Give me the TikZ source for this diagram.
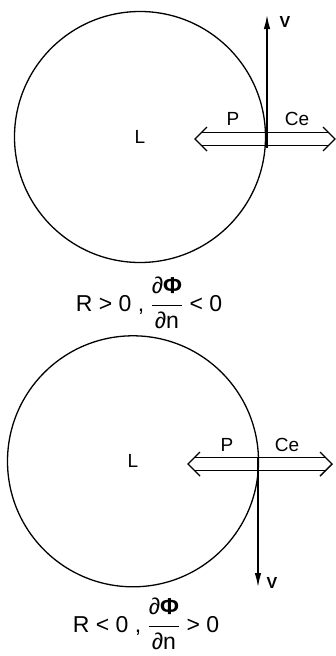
\documentclass[tikz,border=0pt]{standalone}
\usepackage{amsmath}
\usepackage{fontspec}
\setmainfont{Liberation Sans}
\usetikzlibrary{positioning,arrows.meta}

\begin{document}
\begin{tikzpicture}[x=1pt, y=-1pt]
    % Styles
    \tikzstyle{cell} = [circle, draw, line width=1.3pt, minimum size=251pt, inner sep=0pt, font=\fontsize{19}{22}\selectfont]
    \tikzstyle{tag} = [inner sep=0pt, font=\fontsize{19}{22}\selectfont]
    \tikzstyle{vtag} = [inner sep=0pt, font=\bfseries\fontsize{16}{18}\selectfont]
    \tikzstyle{cond} = [inner sep=0pt, font=\fontsize{23}{26}\selectfont]
    \tikzstyle{flux} = [line width=1.4pt, line join=miter]
    \tikzstyle{vel} = [line width=2pt, -{Latex[length=15pt, width=6.5pt]}]

    \useasboundingbox (0,0) rectangle (336,656);

    % Upper case
    \node (cellA) [cell] at (140,137) {L};
    \node (condA) [cond] at (149,302) {R > 0 , \(\genfrac{}{}{1.2pt}{0}{\mbox{\strut∂\textbf{Φ}}}{\mbox{∂n}}\) < 0};
    \coordinate (fluxAl) at (195,139);
    \coordinate (fluxAr) at (335,139);
    \node (pA) [tag] at (233,119) {P};
    \node (ceA) [tag] at (297,119) {Ce};
    \coordinate (vA0) at (267,148);
    \coordinate (vA1) at (267,14);
    \node (vA) [vtag] at (285,22) {V};

    % Lower case
    \node (cellB) [cell, below=72pt of cellA, xshift=-7pt] {L};
    \node (condB) [cond] at (146,623) {R < 0 , \(\genfrac{}{}{1.2pt}{0}{\mbox{\strut∂\textbf{Φ}}}{\mbox{∂n}}\) > 0};
    \coordinate (fluxBl) at (188,464);
    \coordinate (fluxBr) at (332,464);
    \node (pB) [tag] at (227,445) {P};
    \node (ceB) [tag] at (287,445) {Ce};
    \coordinate (vB0) at (258,458);
    \coordinate (vB1) at (258,588);
    \node (vB) [vtag] at (272,583) {V};

    % Arrows
    \draw [flux] ([shift={(6.5,-6.5)}]fluxAl) -- ([shift={(-6.5,-6.5)}]fluxAr);
    \draw [flux] ([shift={(6.5,6.5)}]fluxAl) -- ([shift={(-6.5,6.5)}]fluxAr);
    \draw [flux] ([shift={(12,-12)}]fluxAl) -- (fluxAl) -- ([shift={(12,12)}]fluxAl);
    \draw [flux] ([shift={(-12,-12)}]fluxAr) -- (fluxAr) -- ([shift={(-12,12)}]fluxAr);
    \draw [vel] (vA0) -- (vA1);

    \draw [flux] ([shift={(6.5,-6.5)}]fluxBl) -- ([shift={(-6.5,-6.5)}]fluxBr);
    \draw [flux] ([shift={(6.5,6.5)}]fluxBl) -- ([shift={(-6.5,6.5)}]fluxBr);
    \draw [flux] ([shift={(12,-12)}]fluxBl) -- (fluxBl) -- ([shift={(12,12)}]fluxBl);
    \draw [flux] ([shift={(-12,-12)}]fluxBr) -- (fluxBr) -- ([shift={(-12,12)}]fluxBr);
    \draw [vel] (vB0) -- (vB1);
\end{tikzpicture}
\end{document}
